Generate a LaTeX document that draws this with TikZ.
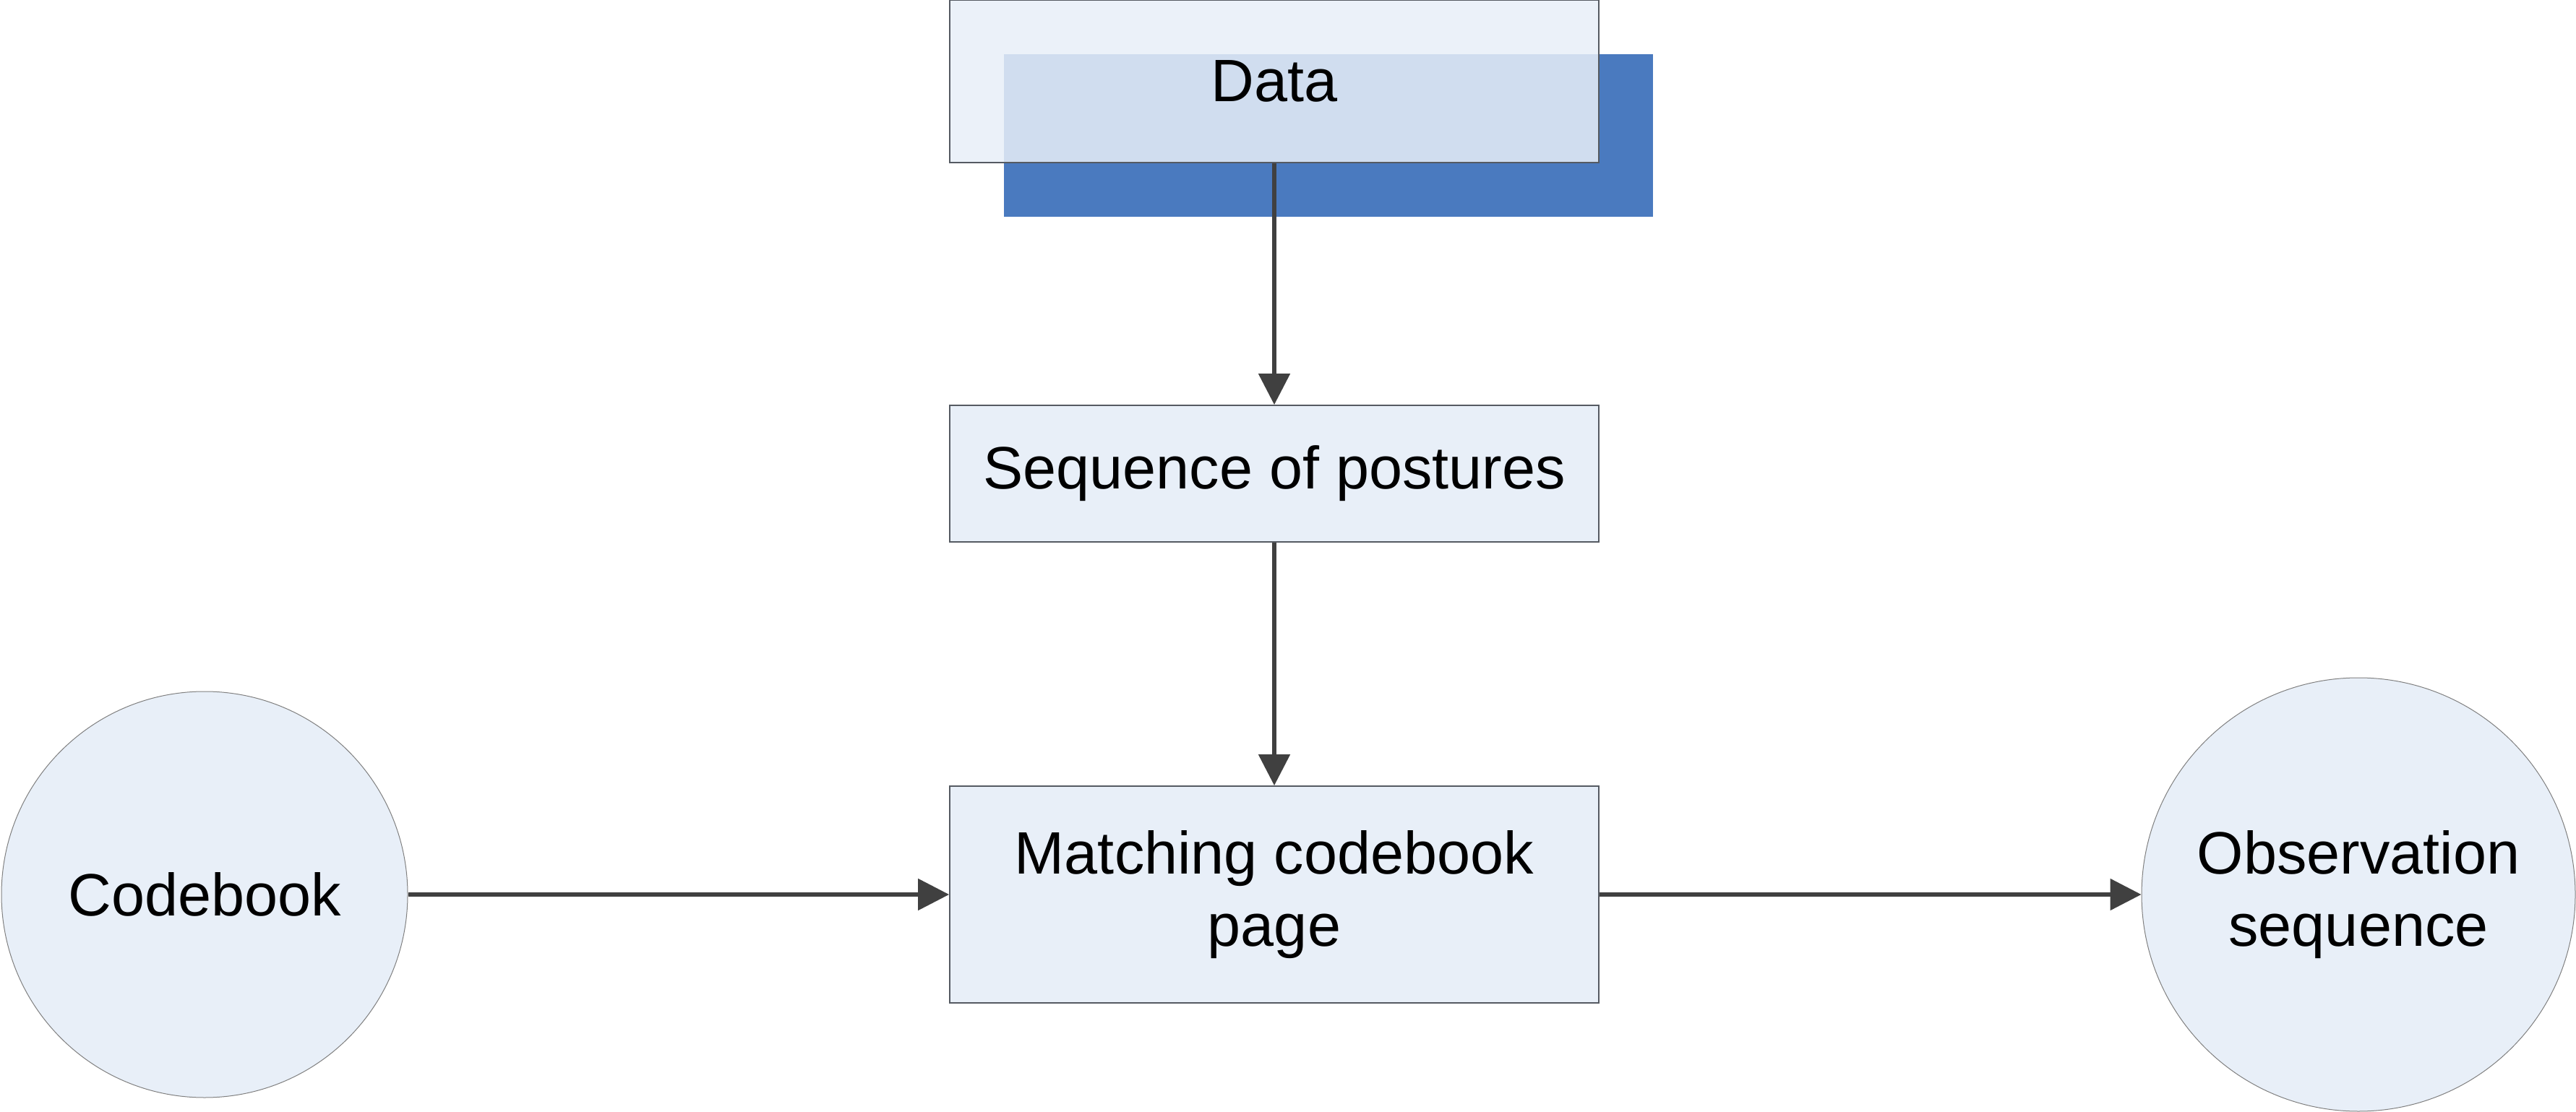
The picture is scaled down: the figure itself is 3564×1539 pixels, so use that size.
\documentclass[tikz,border=0pt]{standalone}
\usepackage{fontspec}
\setmainfont{Liberation Sans}
\usetikzlibrary{arrows.meta}
\definecolor{boxfill}{HTML}{E8EFF8}
\definecolor{shadowblue}{HTML}{4A7ABF}
\definecolor{edgegray}{HTML}{555A62}
\definecolor{arrowgray}{HTML}{404040}
\begin{document}
\begin{tikzpicture}[
        x=0.25pt, y=-0.25pt,
        label font/.style={font=\fontsize{20.7}{25}\selectfont},
        box/.style={rectangle,draw=edgegray,line width=0.45pt,fill=boxfill,minimum width=224.5pt,inner sep=0pt,align=center,label font},
        blob/.style={circle,draw=gray,line width=0.25pt,fill=boxfill,inner sep=-14pt,align=center,label font},
        flow/.style={-{Triangle[length=10.75pt,width=10.75pt]},line width=1.3pt,draw=arrowgray}
    ]
    \useasboundingbox (0,0) rectangle (3564,1539);
    \node [rectangle,fill=shadowblue,minimum width=224.5pt,minimum height=56.25pt,inner sep=0pt] (shadow) at (1838,187.5) {};
    \node [box,fill opacity=0.85,text opacity=1,minimum height=56.25pt] (data) at (1763,112.5) {Data};
    \node [box,minimum height=47.25pt] (seq) at (1763,655.5) {Sequence of postures};
    \node [box,minimum height=75pt] (match) at (1763,1238) {Matching codebook\\page};
    \node [blob,minimum size=140.5pt] (codebook) at (283,1238) {Codebook};
    \node [blob,minimum size=150pt] (obs) at (3263,1238) {Observation\\sequence};
    \draw [flow] (data) -- (seq);
    \draw [flow] (seq) -- (match);
    \draw [flow] (codebook) -- (match);
    \draw [flow] (match) -- (obs);
\end{tikzpicture}
\end{document}
